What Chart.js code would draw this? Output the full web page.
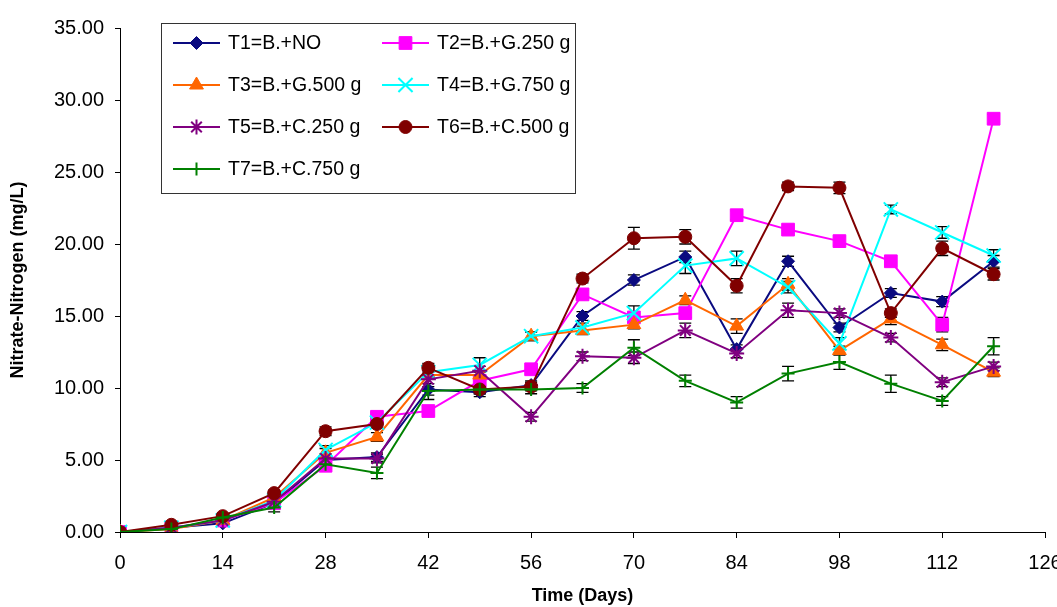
<!DOCTYPE html>
<html>
<head>
<meta charset="utf-8">
<script src="https://cdn.jsdelivr.net/npm/chart.js@4.4.0/dist/chart.umd.min.js"></script>
<style>
  body { margin: 0; background: #fff; }
  #wrap { width: 1057px; height: 607px; }
</style>
</head>
<body>
<div id="wrap"><canvas id="nitrateChart" width="1057" height="607"></canvas></div>
<script>
// Sampling days
const days = [0, 7, 14, 21, 28, 35, 42, 49, 56, 63, 70, 77, 84, 91, 98, 105, 112, 119];

// Nitrate-nitrogen (mg/L) per treatment
const t1 = [0, 0.3, 0.6, 2.0, 5.0, 5.2, 9.9, 9.7, 10.2, 15.0, 17.5, 19.1, 12.7, 18.8, 14.2, 16.6, 16.0, 18.8];
const t2 = [0, 0.3, 0.8, 2.0, 4.6, 8.0, 8.4, 10.5, 11.3, 16.5, 14.9, 15.2, 22.0, 21.0, 20.2, 18.8, 14.4, 28.7];
const t3 = [0, 0.2, 0.8, 2.4, 5.5, 6.6, 10.9, 10.9, 13.6, 14.0, 14.4, 16.1, 14.3, 17.2, 12.6, 14.8, 13.0, 11.1];
const t4 = [0, 0.3, 0.8, 2.2, 5.7, 7.6, 11.1, 11.6, 13.6, 14.2, 15.2, 18.5, 19.0, 17.0, 13.1, 22.4, 20.8, 19.2];
const t5 = [0, 0.3, 0.8, 2.1, 5.1, 5.1, 10.6, 11.2, 8.0, 12.2, 12.1, 14.0, 12.4, 15.4, 15.2, 13.5, 10.4, 11.5];
const t6 = [0, 0.5, 1.1, 2.7, 7.0, 7.5, 11.4, 9.9, 10.1, 17.6, 20.4, 20.5, 17.1, 24.0, 23.9, 15.2, 19.7, 17.9];
const t7 = [0, 0.2, 1.0, 1.7, 4.7, 4.1, 9.8, 9.9, 9.9, 10.0, 12.8, 10.5, 9.0, 11.0, 11.8, 10.3, 9.1, 12.9];

// Standard deviation (+/-) for each point
const t1Err = [0, 0.1, 0.2, 0.2, 0.3, 0.3, 0.7, 0.3, 0.3, 0.3, 0.35, 0.4, 0.3, 0.35, 0.3, 0.3, 0.35, 0.4];
const t2Err = [0, 0.1, 0.2, 0.2, 0.3, 0.3, 0.3, 0.3, 0.3, 0.3, 0.3, 0.3, 0.3, 0.3, 0.3, 0.3, 0.5, 0.3];
const t3Err = [0, 0.1, 0.2, 0.2, 0.3, 0.3, 0.3, 0.3, 0.3, 0.3, 0.3, 0.3, 0.5, 0.4, 0.3, 0.4, 0.4, 0.3];
const t4Err = [0, 0.1, 0.2, 0.2, 0.3, 0.3, 0.3, 0.5, 0.3, 0.3, 0.5, 0.55, 0.5, 0.4, 0.4, 0.3, 0.4, 0.4];
const t5Err = [0, 0.1, 0.2, 0.2, 0.3, 0.3, 0.3, 0.3, 0.3, 0.3, 0.4, 0.5, 0.3, 0.5, 0.3, 0.3, 0.3, 0.3];
const t6Err = [0, 0.1, 0.2, 0.2, 0.3, 0.3, 0.3, 0.3, 0.3, 0.3, 0.75, 0.5, 0.5, 0.3, 0.4, 0.3, 0.5, 0.4];
const t7Err = [0, 0.1, 0.2, 0.3, 0.3, 0.4, 0.3, 0.3, 0.3, 0.3, 0.55, 0.4, 0.4, 0.5, 0.5, 0.6, 0.3, 0.6];

const labels = ['T1=B.+NO', 'T2=B.+G.250 g', 'T3=B.+G.500 g', 'T4=B.+G.750 g',
                'T5=B.+C.250 g', 'T6=B.+C.500 g', 'T7=B.+C.750 g'];
const yTicks = [0, 5, 10, 15, 20, 25, 30, 35];
const xTicks = [0, 14, 28, 42, 56, 70, 84, 98, 112, 126];

const FONT = '"Liberation Sans", Arial, sans-serif';

function series(i, values, errors, color, style, radius, border) {
    return {
        label: labels[i],
        data: days.map((d, k) => ({ x: d, y: values[k] })),
        errors: errors,
        values: values,
        borderColor: color,
        backgroundColor: color,
        borderWidth: 2,
        pointStyle: style,
        pointRadius: radius,
        pointHoverRadius: radius,
        pointBorderWidth: border,
        pointBackgroundColor: color,
        pointBorderColor: color,
        tension: 0,
        order: 7 - i   // later treatments sit on top
    };
}

const datasets = [
    series(0, t1, t1Err, '#0a0a80', 'rectRot', 6.5, 1),
    series(1, t2, t2Err, '#ff00ff', 'rect', 9, 1),
    series(2, t3, t3Err, '#ff6600', 'triangle', 8, 1),
    series(3, t4, t4Err, '#00ffff', 'crossRot', 10, 2),
    series(4, t5, t5Err, '#800080', 'star', 7.5, 2),
    series(5, t6, t6Err, '#800000', 'circle', 6.5, 1),
    series(6, t7, t7Err, '#008000', 'cross', 6.5, 2)
];

// vertical error bars with caps, drawn under the markers
const errorBars = {
    id: 'errorBars',
    beforeDatasetsDraw(chart) {
        const ctx = chart.ctx;
        const xs = chart.scales.x, ys = chart.scales.y;
        ctx.save();
        ctx.strokeStyle = '#000';
        ctx.lineWidth = 1.3;
        chart.data.datasets.forEach(ds => {
            ds.errors.forEach((e, k) => {
                if (!e) return;
                const px = xs.getPixelForValue(days[k]);
                const top = ys.getPixelForValue(ds.values[k] + e);
                const bot = ys.getPixelForValue(ds.values[k] - e);
                ctx.beginPath();
                ctx.moveTo(px, top); ctx.lineTo(px, bot);
                ctx.moveTo(px - 6, top); ctx.lineTo(px + 6, top);
                ctx.moveTo(px - 6, bot); ctx.lineTo(px + 6, bot);
                ctx.stroke();
            });
        });
        ctx.restore();
    }
};

// boxed two-column legend in the upper left of the plot
const boxLegend = {
    id: 'boxLegend',
    afterDraw(chart) {
        const ctx = chart.ctx;
        const left = 161, top = 23, w = 414, h = 170;
        ctx.save();
        ctx.strokeStyle = '#333';
        ctx.lineWidth = 1;
        ctx.strokeRect(left + 0.5, top + 0.5, w, h);
        ctx.font = '19.5px ' + FONT;
        ctx.textBaseline = 'middle';
        ctx.fillStyle = '#000';
        chart.data.datasets.forEach((ds, i) => {
            const col = i % 2, row = Math.floor(i / 2);
            const x0 = col === 0 ? 173 : 382;
            const y0 = 43 + row * 42;
            ctx.strokeStyle = ds.borderColor;
            ctx.lineWidth = 2;
            ctx.beginPath();
            ctx.moveTo(x0, y0); ctx.lineTo(x0 + 47, y0);
            ctx.stroke();
            ctx.fillStyle = ds.pointBackgroundColor;
            ctx.lineWidth = ds.pointBorderWidth;
            Chart.helpers.drawPoint(ctx, {
                pointStyle: ds.pointStyle,
                radius: ds.pointRadius,
                rotation: 0,
                borderWidth: ds.pointBorderWidth
            }, x0 + 23.5, y0);
            ctx.fillStyle = '#000';
            ctx.fillText(ds.label, x0 + 55, y0 + 1);
        });
        ctx.restore();
    }
};

const ctx = document.getElementById('nitrateChart').getContext('2d');
new Chart(ctx, {
    type: 'line',
    data: { datasets: datasets },
    options: {
        responsive: false,
        animation: false,
        layout: { padding: { top: 28, right: 11, left: 0, bottom: 0 } },
        plugins: {
            legend: { display: false },
            tooltip: { enabled: false }
        },
        scales: {
            x: {
                type: 'linear',
                min: 0,
                max: 126,
                afterBuildTicks: s => { s.ticks = xTicks.map(v => ({ value: v })); },
                afterFit: s => { s.height = 75; s.paddingLeft = 0; s.paddingRight = 0; },
                grid: { drawOnChartArea: false, color: '#000', tickLength: 6 },
                border: { color: '#000', width: 1 },
                ticks: { color: '#000', padding: 13, maxRotation: 0, font: { family: FONT, size: 20 } },
                title: {
                    display: true,
                    text: 'Time (Days)',
                    color: '#000',
                    padding: { top: 0, bottom: 0 },
                    font: { family: FONT, size: 18, weight: 'bold' }
                }
            },
            y: {
                min: 0,
                max: 35,
                afterBuildTicks: s => { s.ticks = yTicks.map(v => ({ value: v })); },
                afterFit: s => { s.width = 120; },
                grid: { drawOnChartArea: false, color: '#000', tickLength: 5 },
                border: { color: '#000', width: 1 },
                ticks: {
                    color: '#000',
                    padding: 11,
                    font: { family: FONT, size: 20 },
                    callback: v => v.toFixed(2)
                },
                title: {
                    display: true,
                    text: 'Nitrate-Nitrogen (mg/L)',
                    color: '#000',
                    padding: { top: 7, bottom: 0 },
                    font: { family: FONT, size: 18, weight: 'bold' }
                }
            }
        }
    },
    plugins: [errorBars, boxLegend]
});
</script>
</body>
</html>
